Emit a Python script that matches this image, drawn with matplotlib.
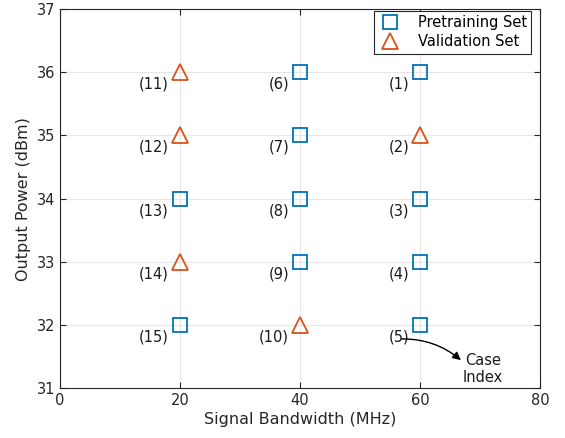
import matplotlib.pyplot as plt
import numpy as np

# case index -> (bandwidth, power, set)
case_bw = [60, 60, 60, 60, 60, 40, 40, 40, 40, 40, 20, 20, 20, 20, 20]
case_pw = [36, 35, 34, 33, 32, 36, 35, 34, 33, 32, 36, 35, 34, 33, 32]
case_set = ['P', 'V', 'P', 'P', 'P', 'P', 'P', 'P', 'P', 'V', 'V', 'V', 'P', 'V', 'P']

blue = '#0072BD'
orange = '#D95319'

plt.rcParams['font.family'] = ['DejaVu Sans']
fig = plt.figure(figsize=(5.65, 4.38), dpi=100)
ax = fig.add_axes([0.106, 0.114, 0.850, 0.865])

bw = np.array(case_bw)
pw = np.array(case_pw)
st = np.array(case_set)

ax.plot(bw[st == 'P'], pw[st == 'P'], 's', ms=10, mfc='none', mec=blue, mew=1.3,
        label='Pretraining Set', zorder=3)
ax.plot(bw[st == 'V'], pw[st == 'V'], '^', ms=12, mfc='none', mec=orange, mew=1.3,
        label='Validation Set', zorder=3)

for i, (x, y) in enumerate(zip(case_bw, case_pw)):
    ax.annotate(f'({i + 1})', (x, y), xytext=(-11, -12), textcoords='offset pixels',
                ha='right', va='center', fontsize=10.5, color='#1a1a1a')

# arrow from "(5)" to the "Case Index" note (figure pixels, origin bottom-left)
ax.annotate('', xy=(463, 438 - 362), xytext=(399, 438 - 339), xycoords='figure pixels',
            textcoords='figure pixels',
            arrowprops=dict(arrowstyle='-|>', color='black', lw=1.0,
                            connectionstyle='arc3,rad=-0.2', mutation_scale=12))
fig.text(483 / 565, 1 - 369 / 438, 'Case\nIndex', ha='center', va='center',
         fontsize=10.5, color='#1a1a1a', linespacing=1.2)

ax.set_xlim(0, 80)
ax.set_ylim(31, 37)
ax.set_xticks([0, 20, 40, 60, 80])
ax.set_yticks(range(31, 38))
ax.grid(True, color='#e6e6e6', lw=0.8)
ax.set_axisbelow(True)
ax.tick_params(direction='in', top=True, right=True, labelsize=10.5, color='#262626',
               labelcolor='#262626', length=4)
for s in ax.spines.values():
    s.set_color('#262626')
    s.set_linewidth(0.8)
ax.set_xlabel('Signal Bandwidth (MHz)', fontsize=11.5, color='#262626', labelpad=3)
ax.set_ylabel('Output Power (dBm)', fontsize=11.5, color='#262626', labelpad=4)

leg = ax.legend(loc='upper right', fontsize=10.5, fancybox=False, edgecolor='#262626',
                framealpha=1, borderpad=0.3, handletextpad=1.1, labelspacing=0.3,
                borderaxespad=0.1, handlelength=1.6, bbox_to_anchor=(0.985, 1.0))
leg.get_frame().set_linewidth(0.8)

fig.savefig('out.png', dpi=100)
